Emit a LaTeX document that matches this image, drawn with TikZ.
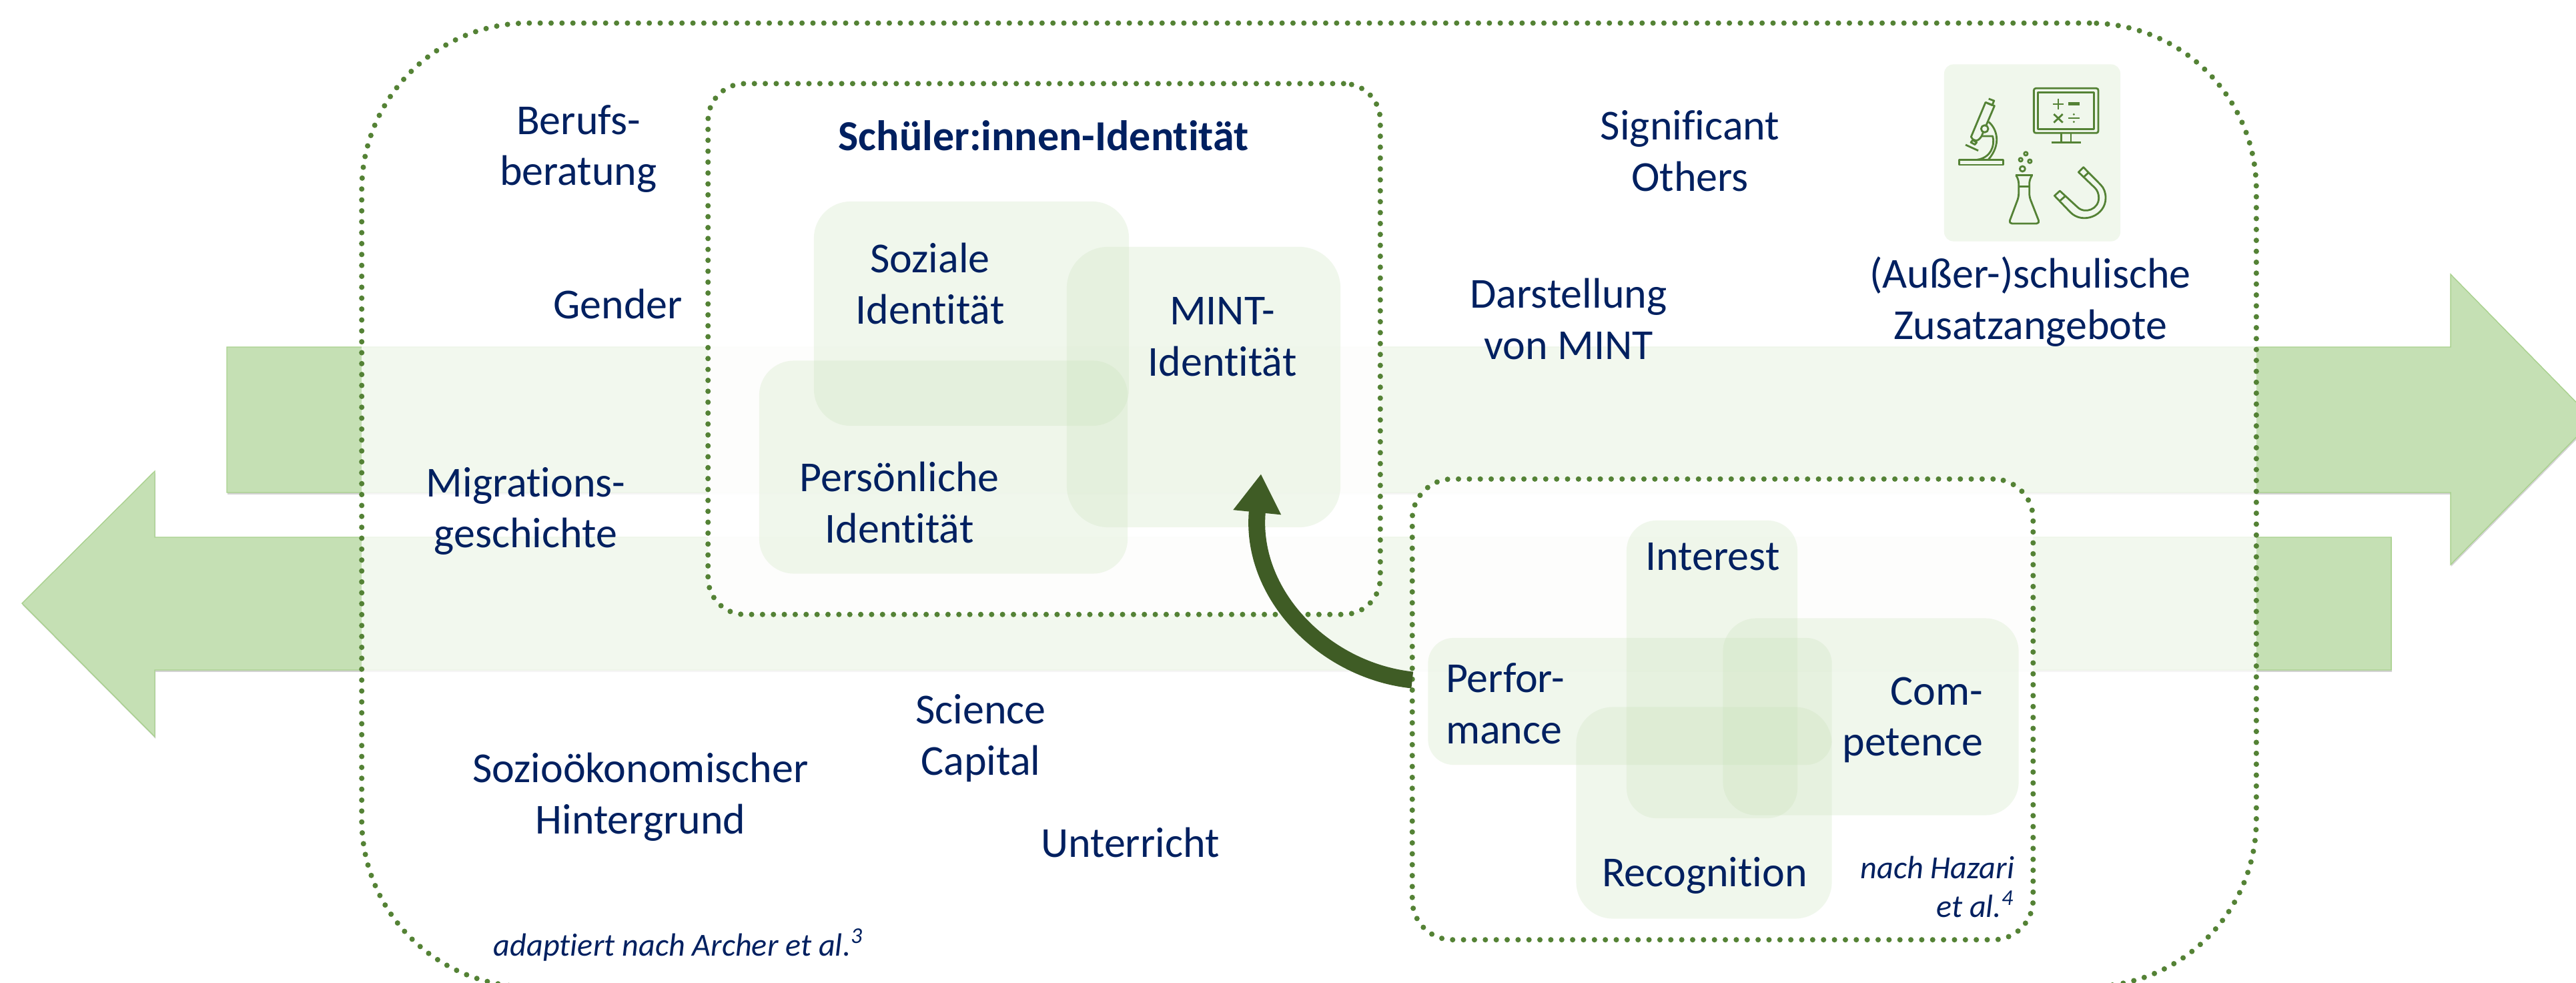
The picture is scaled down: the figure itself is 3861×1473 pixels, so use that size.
\documentclass[tikz,border=0pt]{standalone}
\usepackage{fontspec}
\setmainfont[Ligatures=NoCommon]{Carlito}
\usepackage{xcolor}
\usetikzlibrary{positioning}
\usetikzlibrary{arrows.meta,shadows}
\definecolor{navytext}{HTML}{002060}
\definecolor{dotgreen}{HTML}{548235}
\definecolor{bandgreen}{HTML}{C5E0B4}
\definecolor{bandedge}{HTML}{A9D18E}
\definecolor{darkgreen}{HTML}{3F5C25}
\definecolor{softgreen}{HTML}{F0F7EC}

\begin{document}
\begin{tikzpicture}[
x = 0.01cm, y = -0.01cm,
every node/.style = {inner sep = 0pt, outer sep = 0pt},
band/.style = {fill = bandgreen, draw = bandedge, line width = 0.4pt,
  drop shadow = {shadow xshift = 0.3pt, shadow yshift = -0.8pt, opacity = 0.35}},
dotbox/.style = {rectangle, draw = dotgreen, line width = 2.3pt, line cap = round,
  dash pattern = on 0pt off 4.65pt, fill = white},
softbox/.style = {rectangle, fill = bandgreen, fill opacity = 0.24},
lbl/.style = {text = navytext, align = center,
  font = \fontsize{18.2}{21.8}\selectfont},
srcnote/.style = {text = navytext,
  font = \fontsize{13.7}{16.5}\selectfont\itshape},
icon/.style = {draw = dotgreen, line width = 0.8pt, line join = round}
]
\useasboundingbox (0,0) rectangle (3861,1473);
\clip (0,0) rectangle (3861,1473);

% the two arrows behind everything
\path[band] (340,520) -- (3673,520) -- (3673,411) -- (3887,629)
  -- (3673,846) -- (3673,738) -- (340,738) -- cycle;
\path[band] (3584,805) -- (232,805) -- (232,706) -- (33,904)
  -- (232,1104) -- (232,1004) -- (3584,1004) -- cycle;

\node[dotbox, fill opacity = 0.78, rounded corners = 2.5cm,
  minimum width = 28.38cm, minimum height = 14.43cm] (context) at (1962,756.5) {};
\node[dotbox, fill opacity = 0.85, rounded corners = 0.55cm,
  minimum width = 10.07cm, minimum height = 7.95cm] (identity) at (1565,523) {};
\node[dotbox, fill opacity = 0.85, rounded corners = 0.6cm,
  minimum width = 9.3cm, minimum height = 6.9cm] (hazari) at (2582,1063) {};

\node[softbox, rounded corners = 0.55cm,
  minimum width = 4.72cm, minimum height = 3.36cm] (soziale) at (1456,470) {};
\node[softbox, rounded corners = 0.62cm,
  minimum width = 4.1cm, minimum height = 4.2cm] (mint) at (1804,580) {};
\node[softbox, rounded corners = 0.52cm,
  minimum width = 5.52cm, minimum height = 3.19cm] (persoenlich) at (1414,700) {};

\node[softbox, rounded corners = 0.45cm,
  minimum width = 2.56cm, minimum height = 4.46cm] (interest) at (2566,1003) {};
\node[softbox, rounded corners = 0.38cm,
  minimum width = 6.05cm, minimum height = 1.9cm] (performance) at (2443,1051) {};
\node[softbox, rounded corners = 0.5cm,
  minimum width = 4.43cm, minimum height = 2.95cm] (competence) at (2804,1074) {};
\node[softbox, rounded corners = 0.55cm,
  minimum width = 3.83cm, minimum height = 3.17cm] (recognition) at (2554,1218) {};
\node[rectangle, fill = softgreen, rounded corners = 0.14cm,
  minimum width = 2.64cm, minimum height = 2.65cm] (tile) at (3046,229) {};

\node[lbl, font = \fontsize{18.2}{21.8}\selectfont\bfseries] (title) at (1564,203) {Schüler:innen-Identität};
\node[lbl] (sozialetext) at (1394,425) {Soziale\\Identität};
\node[lbl] (minttext) at (1832,505) {MINT-\\Identität};
\node[lbl] (persoenlichtext) at (1348,753) {Persönliche\\Identität};
\node[lbl] (interesttext) at (2567,834) {Interest};
\node[lbl, align = left, anchor = west] (performancetext) at (2167,1054) {Perfor-\\mance};
\node[lbl, align = right, anchor = east] (competencetext) at (2972,1079) {Com-\\petence};
\node[lbl] (recognitiontext) at (2555,1312) {Recognition};
\node[srcnote, align = right, anchor = east] (hazarinote) at (3019,1329) {nach Hazari\\et al.\textsuperscript{4}};

\node[lbl] (beratung) at (867,223) {Berufs-\\beratung};
\node[lbl] (gender) at (926,455) {Gender};
\node[lbl] (migration) at (788,766) {Migrations-\\geschichte};
\node[lbl] (sozio) at (960,1194) {Sozioökonomischer\\Hintergrund};
\node[lbl] (capital) at (1470,1106) {Science\\Capital};
\node[lbl] (unterricht) at (1694,1263) {Unterricht};
\node[srcnote] (archernote) at (1017,1416) {adaptiert nach Archer et al.\textsuperscript{3}};
\node[lbl] (others) at (2533,226) {Significant\\Others};
\node[lbl] (darstellung) at (2351,478) {Darstellung\\von MINT};
\node[lbl] (zusatz) at (3043,452) {(Außer-)schulische\\Zusatzangebote};

\coordinate (hazariport) at ([yshift = 0.44cm]hazari.west);
\coordinate (mintarrow) at (1890,710);
\draw[darkgreen, line width = 0.25cm, -{Triangle[length = 0.58cm, width = 0.68cm]}]
  (hazariport) .. controls (1985,1005) and (1872,890) .. (mintarrow);

% icons on the tile, in zoom pixels
\begin{scope}[shift = {(2850,60)}, x = 0.01cm/3, y = -0.01cm/3]
  \draw[icon] (260,539) rectangle (458,561);
  \draw[icon] (378,280) -- (418,296) -- (360,432) .. controls (345,458) and (325,458) .. (313,435) -- cycle;
  \draw[icon] (392,264) -- (416,273) -- (408,293) -- (386,284);
  \draw[icon] (320,450) -- (338,460) -- (330,470) -- (312,460) -- cycle;
  \draw[icon, fill = softgreen] (374,399) circle (16);
  \draw[icon] (392,368) .. controls (430,400) and (450,470) .. (390,538);
  \draw[icon] (362,432) -- (410,432) .. controls (422,475) and (400,530) .. (340,538);
  \draw[icon] (288,471) -- (345,497);
  \draw[icon, rounded corners = 0.03cm] (595,217) rectangle (885,418);
  \draw[icon] (613,236) rectangle (866,400);
  \draw[icon] (718,418) -- (718,461);
  \draw[icon] (762,418) -- (762,461);
  \draw[icon] (674,461) -- (806,461);
  \draw[icon] (680,288) -- (730,288);
  \draw[icon] (705,263) -- (705,313);
  \draw[icon, line width = 1.3pt] (750,286) -- (802,286);
  \draw[icon] (685,333) -- (725,371);
  \draw[icon] (725,333) -- (685,371);
  \draw[icon] (750,351) -- (800,351);
  \fill[dotgreen] (775,334) circle (5);
  \fill[dotgreen] (775,368) circle (5);
  \draw[icon] (559,511) circle (8);
  \draw[icon] (536,538) circle (8);
  \draw[icon] (577,545) circle (8);
  \draw[icon] (544,579) circle (12);
  \draw[icon] (512,608) -- (590,608);
  \draw[icon, rounded corners = 0.05cm] (515,608) -- (527,630) -- (527,705) -- (482,825) -- (622,825) -- (575,705) -- (575,630) -- (587,608);
  \draw[icon] (527,659) -- (575,659);
  \draw[icon] (688,700) -- (712,678) -- (790,750) .. controls (825,785) and (887,760) .. (887,710)
    .. controls (887,690) and (880,675) .. (870,665) -- (796,594) -- (818,572) -- (895,650)
    .. controls (910,665) and (918,685) .. (918,710) .. controls (918,790) and (815,830) .. (760,775) -- cycle;
  \draw[icon] (712,723) -- (736,702);
  \draw[icon] (818,617) -- (842,595);
\end{scope}
\end{tikzpicture}
\end{document}
